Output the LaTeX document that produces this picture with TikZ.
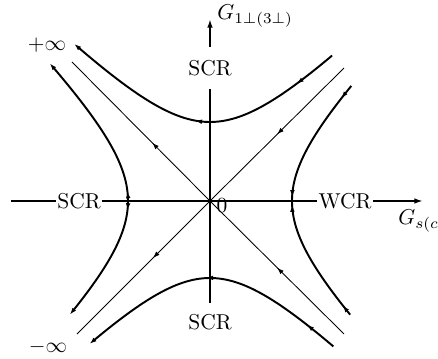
\documentclass[tikz,border=0pt]{standalone}
\usetikzlibrary{arrows.meta,decorations.markings}

\begin{document}
\begin{tikzpicture}[x=0.465pt, y=0.465pt,
        axis/.style={line width=0.9pt, -{Latex[length=4pt,width=2.6pt]}},
        branch/.style={line width=0.9pt},
        diag/.style={line width=0.4pt},
        tip/.style={-{Latex[length=3.2pt,width=2.2pt]}},
        flow/.style={postaction={decorate, decoration={markings,
            mark=at position #1 with {\arrow{Latex[length=3.2pt,width=2.2pt]}}}}}]
            \useasboundingbox (-210,-158) rectangle (228,201);

            \coordinate (o) at (0,0);
            \coordinate (xl) at (-199,0);
            \coordinate (xr) at (213,0);
            \coordinate (yb) at (0,-102);
            \coordinate (yt) at (0,182);
            \node[inner xsep=0.5pt] (scrl) at (-131,0) {SCR};
            \node[inner xsep=0.5pt] (wcr) at (135,0) {WCR};
            \node[inner ysep=6pt] (scrt) at (0,133) {SCR};
            \node (scrb) at (0,-121) {SCR};
            \draw[axis] (xl) -- (scrl) -- (wcr) -- (xr);
            \draw[axis] (yb) -- (scrt) -- (yt);

            \node[anchor=base west, inner sep=0] (gy) at (7,181) {$G_{1\perp(3\perp)}$};
            \node[anchor=base west, inner sep=0] (gx) at (188,-24) {$G_{s(c)}$};
            \node (zero) at (12,-5) {0};
            \node (pinf) at (-163,156) {$+\infty$};
            \node (minf) at (-162,-146) {$-\infty$};

            \coordinate (ul) at (-138,139);
            \coordinate (ur) at (134,133);
            \coordinate (ll) at (-133,-133);
            \coordinate (lr) at (134,-133);
            \draw[diag, flow=0.42] (o) -- (ul);
            \draw[diag, flow=0.5] (ur) -- (o);
            \draw[diag, flow=0.43] (o) -- (ll);
            \draw[diag, flow=0.5] (lr) -- (o);

            \draw[branch, tip, flow=0.06] plot[domain=0:1.29, samples=40] ({-82*cosh(\x)}, {82*sinh(\x)});
            \draw[branch, tip, flow=0.07] plot[domain=0:1.13, samples=40] ({-82*cosh(\x)}, {-82*sinh(\x)});
            \draw[branch, flow=0.12, flow=0.97] plot[domain=-1.14:0, samples=40] ({82*cosh(\x)}, {-82*sinh(\x)});
            \draw[branch, flow=0.09, flow=0.97] plot[domain=-1.13:0, samples=40] ({82*cosh(\x)}, {82*sinh(\x)});
            \draw[branch, tip, flow=0.15, flow=0.52] plot[domain=-1.22:1.31, samples=60] ({-79*sinh(\x)}, {79*cosh(\x)});
            \draw[branch, tip, flow=0.12, flow=0.52] plot[domain=-1.25:1.23, samples=60] ({-77*sinh(\x)}, {-77*cosh(\x)});
        \end{tikzpicture}
\end{document}
